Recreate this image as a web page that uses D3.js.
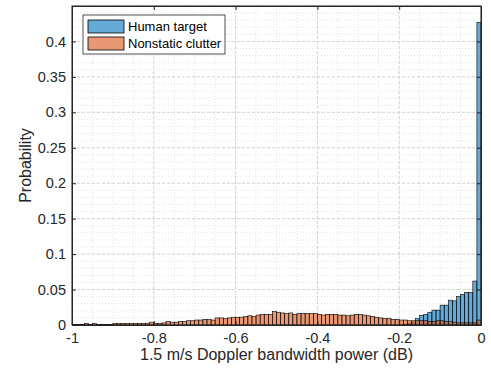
<!DOCTYPE html>
<html>
<head>
<meta charset="utf-8">
<script src="https://cdn.jsdelivr.net/npm/d3@7"></script>
<style>
  body { margin: 0; background: #fff; }
  svg { font-family: "Liberation Sans", Arial, Helvetica, sans-serif; }
</style>
</head>
<body>
<div class="chart"></div>
<script>
// bins of 0.01 from -1 to 0 (left edges)
const binWidth = 0.01;
const binStarts = d3.range(100).map(i => -1 + i * binWidth);

// Human target probabilities, one per bin
const humanTarget = [
  0,0,0,0,0,0,0,0,0,0,
  0,0,0,0,0,0,0,0,0,0,
  0,0,0,0,0,0,0,0,0,0,
  0,0,0,0,0,0,0,0,0,0,
  0,0,0,0,0,0,0,0,0,0,
  0,0,0,0,0,0,0,0,0,0,
  0,0,0,0,0,0,0,0,0,0,
  0,0,0,0,0,0,0,0,0,0,
  0,0.001,0.002,0.004,0.009,0.0135,0.015,0.018,0.021,0.021,
  0.028,0.028,0.035,0.034,0.040,0.043,0.046,0.046,0.062,0.427
];

// Nonstatic clutter probabilities, one per bin
const clutter = [
  0.0008,0.0008,0.0008,0.002,0.0008,0.002,0.0005,0.0005,0.0005,0.0005,
  0.002,0.002,0.002,0.002,0.002,0.002,0.002,0.002,0.0025,0.004,
  0.002,0.002,0.003,0.005,0.004,0.004,0.005,0.005,0.006,0.006,
  0.007,0.007,0.008,0.008,0.007,0.010,0.010,0.009,0.010,0.011,
  0.011,0.011,0.012,0.013,0.012,0.014,0.015,0.015,0.015,0.019,
  0.018,0.017,0.016,0.017,0.015,0.016,0.016,0.016,0.016,0.016,
  0.015,0.014,0.015,0.015,0.015,0.014,0.014,0.013,0.014,0.015,
  0.015,0.014,0.013,0.012,0.011,0.010,0.009,0.009,0.008,0.008,
  0.007,0.007,0.006,0.006,0.006,0.006,0.006,0.005,0.005,0.006,
  0.006,0.005,0.005,0.004,0.003,0.003,0.003,0.003,0.003,0.007
];

const xTicks = [-1, -0.8, -0.6, -0.4, -0.2, 0];
const yTicks = [0, 0.05, 0.1, 0.15, 0.2, 0.25, 0.3, 0.35, 0.4];
const seriesNames = ['Human target', 'Nonstatic clutter'];

const W = 491, H = 374;
const margin = { top: 6, right: 10, bottom: 49, left: 72 };
const width = W - margin.left - margin.right;
const height = H - margin.top - margin.bottom;
const axisColor = '#262626';

const svg = d3.select('.chart').append('svg')
  .attr('width', W)
  .attr('height', H);

const chart = svg.append('g')
  .attr('transform', `translate(${margin.left},${margin.top})`);

const x = d3.scaleLinear().domain([-1, 0]).range([0, width]);
const y = d3.scaleLinear().domain([0, 0.45]).range([height, 0]);

// minor grid (dotted)
chart.append('g').selectAll('line')
  .data(d3.range(-1, 0.0001, 0.05))
  .enter().append('line')
  .attr('x1', d => x(d)).attr('x2', d => x(d))
  .attr('y1', 0).attr('y2', height)
  .attr('stroke', '#e3e3e3').attr('stroke-dasharray', '1,2');
chart.append('g').selectAll('line')
  .data(d3.range(0, 0.4501, 0.01))
  .enter().append('line')
  .attr('x1', 0).attr('x2', width)
  .attr('y1', d => y(d)).attr('y2', d => y(d))
  .attr('stroke', '#e3e3e3').attr('stroke-dasharray', '1,2');

// major grid (dashed)
chart.append('g').selectAll('line')
  .data(xTicks)
  .enter().append('line')
  .attr('x1', d => x(d)).attr('x2', d => x(d))
  .attr('y1', 0).attr('y2', height)
  .attr('stroke', '#d6d6d6').attr('stroke-dasharray', '3,2');
chart.append('g').selectAll('line')
  .data(yTicks)
  .enter().append('line')
  .attr('x1', 0).attr('x2', width)
  .attr('y1', d => y(d)).attr('y2', d => y(d))
  .attr('stroke', '#d6d6d6').attr('stroke-dasharray', '3,2');

// histogram bars
const series = [
  { name: seriesNames[0], values: humanTarget, color: 'rgb(0,114,189)' },
  { name: seriesNames[1], values: clutter, color: 'rgb(217,83,25)' }
];

const clip = svg.append('clipPath').attr('id', 'plotclip')
  .append('rect').attr('width', width).attr('height', height);

series.forEach(s => {
  chart.append('g')
    .attr('clip-path', 'url(#plotclip)')
    .selectAll('rect')
    .data(binStarts.map((b, i) => ({ x0: b, v: s.values[i] })).filter(d => d.v > 0))
    .enter().append('rect')
    .attr('x', d => x(d.x0))
    .attr('width', d => x(d.x0 + binWidth) - x(d.x0))
    .attr('y', d => y(d.v))
    .attr('height', d => y(0) - y(d.v))
    .attr('fill', s.color)
    .attr('fill-opacity', 0.6)
    .attr('stroke', '#000')
    .attr('stroke-width', 0.6);
});

// axes with inward ticks
const xAxis = chart.append('g')
  .attr('transform', `translate(0,${height})`)
  .call(d3.axisBottom(x).tickValues(xTicks).tickFormat(d3.format('')).tickSizeInner(-4).tickSizeOuter(0).tickPadding(8));
chart.append('g')
  .call(d3.axisTop(x).tickValues(xTicks).tickFormat('').tickSizeInner(-4).tickSizeOuter(0));
const yAxis = chart.append('g')
  .call(d3.axisLeft(y).tickValues(yTicks).tickFormat(d3.format('')).tickSizeInner(-4).tickSizeOuter(0).tickPadding(6));
chart.append('g')
  .attr('transform', `translate(${width},0)`)
  .call(d3.axisRight(y).tickValues(yTicks).tickFormat('').tickSizeInner(-4).tickSizeOuter(0));

chart.selectAll('.domain, .tick line').attr('stroke', axisColor);
chart.selectAll('.tick text')
  .attr('fill', axisColor)
  .style('font-size', '14.5px')
  .style('font-family', '"Liberation Sans", Arial, sans-serif')
  .text(function() { return this.textContent.replace('−', '-'); });

// y-axis domain goes full height
chart.append('rect')
  .attr('width', width).attr('height', height)
  .attr('fill', 'none').attr('stroke', axisColor).attr('stroke-width', 1);

// axis labels
svg.append('text')
  .attr('x', margin.left + width / 2)
  .attr('y', 360)
  .attr('text-anchor', 'middle')
  .attr('fill', axisColor)
  .style('font-size', '16px')
  .text('1.5 m/s Doppler bandwidth power (dB)');

svg.append('text')
  .attr('transform', `translate(31,${margin.top + height / 2}) rotate(-90)`)
  .attr('text-anchor', 'middle')
  .attr('fill', axisColor)
  .style('font-size', '16px')
  .text('Probability');

// legend
const legend = svg.append('g').attr('transform', 'translate(83,15)');
legend.append('rect')
  .attr('width', 142).attr('height', 39)
  .attr('fill', '#fff').attr('stroke', axisColor).attr('stroke-width', 0.8);
series.forEach((s, i) => {
  const g = legend.append('g').attr('transform', `translate(5,${5 + i * 17})`);
  g.append('rect')
    .attr('width', 36).attr('height', 13)
    .attr('fill', s.color).attr('fill-opacity', 0.6)
    .attr('stroke', '#000').attr('stroke-width', 0.8);
  g.append('text')
    .attr('x', 40).attr('y', 11)
    .attr('fill', '#000')
    .style('font-size', '13px')
    .text(s.name);
});
</script>
</body>
</html>
